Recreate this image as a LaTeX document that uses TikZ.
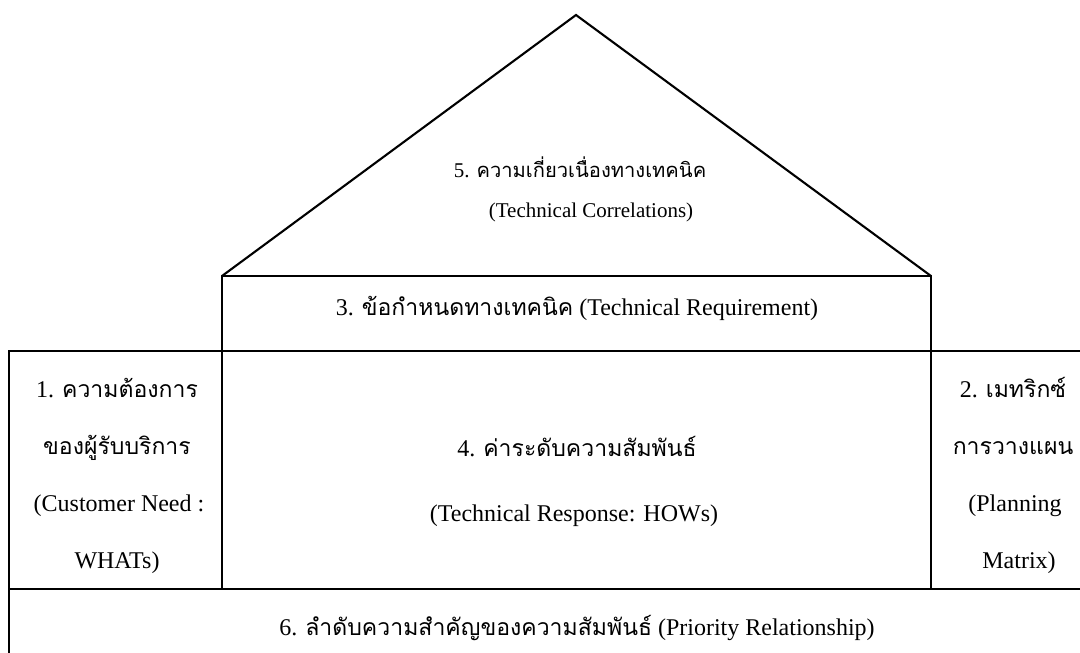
\documentclass[tikz,border=0pt]{standalone}
\usepackage{fontspec}
\setmainfont{Liberation Serif}
\newfontfamily\thaifont[Script=Thai,Scale=0.96]{Loma}
\begin{document}
\begin{tikzpicture}[x=1pt,y=-1pt,
  frame/.style={draw=black,line width=2.1pt,line join=miter},
  lbl/.style={anchor=base,inner sep=0pt,font=\fontsize{24}{28}\selectfont},
  rooflbl/.style={anchor=base,inner sep=0pt,font=\fontsize{21}{25}\selectfont}]
\clip (0,0) rectangle (1080,653);
\fill[white] (0,0) rectangle (1080,653);

% corner points of the house
\coordinate (apex) at (576,15);
\coordinate (rl) at (222,276);
\coordinate (rr) at (931,276);
\coordinate (ml) at (9,351);
\coordinate (mr) at (1099,351);
\coordinate (bl) at (9,589);
\coordinate (br) at (1099,589);
\coordinate (cl) at (222,589);
\coordinate (cr) at (931,589);
\coordinate (fl) at (9,680);
\coordinate (fr) at (1099,680);

% roof
\draw[frame] (rl) -- (apex) -- (rr);
% technical requirement row
\draw[frame] (rl) rectangle (cr |- ml);
% main row
\draw[frame] (ml) rectangle (br);
\draw[frame] (rl |- ml) -- (cl);
\draw[frame] (rr |- ml) -- (cr);
% priority row
\draw[frame] (bl) rectangle (fr);

% roof text
\node[rooflbl] (t5a) at (580,177) {5. {\thaifont ความเกี่ยวเนื่องทางเทคนิค}};
\node[rooflbl] (t5b) at (591,217) {(Technical Correlations)};

% technical requirement
\node[lbl] (t3) at (577,315) {3. {\thaifont ข้อกำหนดทางเทคนิค} (Technical Requirement)};

% customer needs
\node[lbl] (t1a) at (117,397) {1. {\thaifont ความต้องการ}};
\node[lbl] (t1b) at (117,454) {\thaifont ของผู้รับบริการ};
\node[lbl] (t1c) at (119,511) {(Customer Need :};
\node[lbl] (t1d) at (117,568) {WHATs)};

% technical response
\node[lbl] (t4a) at (577,456) {4. {\thaifont ค่าระดับความสัมพันธ์}};
\node[lbl] (t4b) at (574,521) {(Technical Response: HOWs)};

% planning matrix
\node[lbl] (t2a) at (1013,397) {2. {\thaifont เมทริกซ์}};
\node[lbl] (t2b) at (1013,454) {\thaifont การวางแผน};
\node[lbl] (t2c) at (1015,511) {(Planning};
\node[lbl] (t2d) at (1019,568) {Matrix)};

% priority relationship
\node[lbl] (t6) at (577,635) {6. {\thaifont ลำดับความสำคัญของความสัมพันธ์} (Priority Relationship)};
\end{tikzpicture}
\end{document}
